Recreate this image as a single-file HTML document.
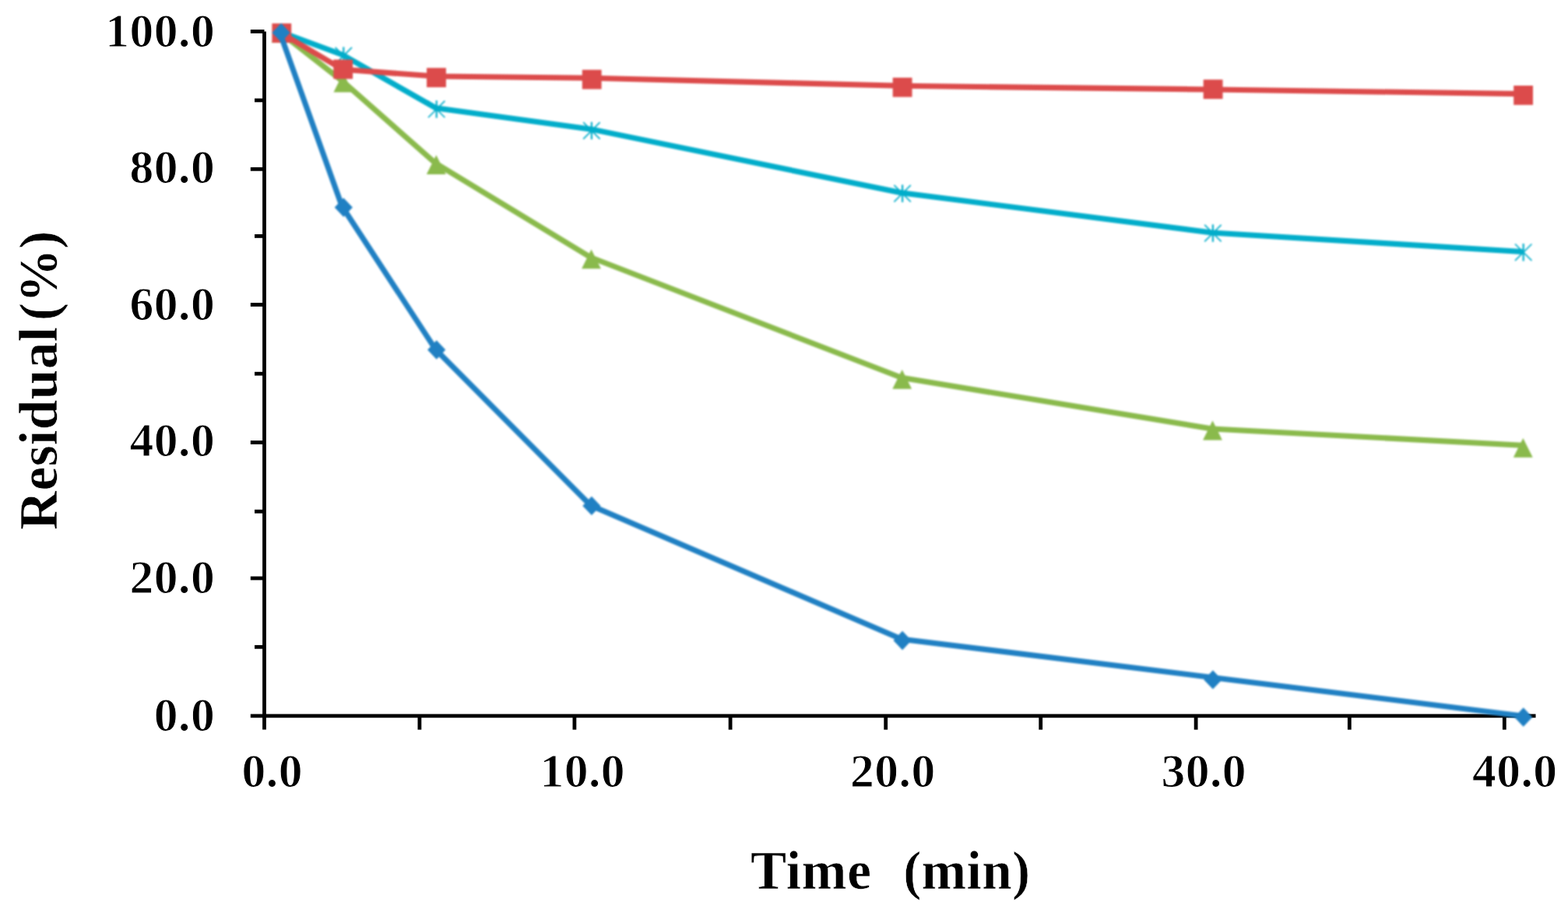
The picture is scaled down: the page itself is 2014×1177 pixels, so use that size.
<!DOCTYPE html>
<html lang="en"><head><meta charset="utf-8"><title>Residual (%) vs Time (min)</title>
<style>
html,body{margin:0;padding:0;background:#fff;}
body{width:2014px;height:1177px;overflow:hidden;}
svg{display:block;}
text{font-family:"Liberation Serif","Times New Roman",serif;font-weight:bold;fill:#000;}
.t{font-size:61.5px;letter-spacing:0.5px;stroke:#fff;stroke-width:1.0px;stroke-linejoin:round;}
.a{font-size:69.2px;stroke:#fff;stroke-width:0.6px;stroke-linejoin:round;}
</style></head><body>
<svg width="2014" height="1177" viewBox="0 0 2014 1177">
<rect width="2014" height="1177" fill="#fff"/>

<g stroke="#000" stroke-width="4.8" fill="none">
<line x1="339.5" y1="40.4" x2="339.5" y2="937.6"/>
<line x1="321.8" y1="919.9" x2="1972.5" y2="919.9"/>
<line x1="321.8" y1="40.4" x2="339.5" y2="40.4"/>
<line x1="327.0" y1="128.9" x2="339.5" y2="128.9"/>
<line x1="321.8" y1="217.3" x2="339.5" y2="217.3"/>
<line x1="327.0" y1="303.4" x2="339.5" y2="303.4"/>
<line x1="321.8" y1="391.5" x2="339.5" y2="391.5"/>
<line x1="327.0" y1="480.2" x2="339.5" y2="480.2"/>
<line x1="321.8" y1="568.5" x2="339.5" y2="568.5"/>
<line x1="327.0" y1="657.2" x2="339.5" y2="657.2"/>
<line x1="321.8" y1="743.0" x2="339.5" y2="743.0"/>
<line x1="327.0" y1="831.3" x2="339.5" y2="831.3"/>
<line x1="538.9" y1="919.9" x2="538.9" y2="937.6"/>
<line x1="737.9" y1="919.9" x2="737.9" y2="937.6"/>
<line x1="938.1" y1="919.9" x2="938.1" y2="937.6"/>
<line x1="1137.7" y1="919.9" x2="1137.7" y2="937.6"/>
<line x1="1336.7" y1="919.9" x2="1336.7" y2="937.6"/>
<line x1="1536.1" y1="919.9" x2="1536.1" y2="937.6"/>
<line x1="1733.3" y1="919.9" x2="1733.3" y2="937.6"/>
<line x1="1932.3" y1="919.9" x2="1932.3" y2="937.6"/>
</g>
<text class="t" x="276.2" y="60.2" text-anchor="end">100.0</text>
<text class="t" x="276.2" y="234.5" text-anchor="end">80.0</text>
<text class="t" x="276.2" y="410.9" text-anchor="end">60.0</text>
<text class="t" x="276.2" y="585.7" text-anchor="end">40.0</text>
<text class="t" x="276.2" y="762.4" text-anchor="end">20.0</text>
<text class="t" x="276.2" y="939.3" text-anchor="end">0.0</text>
<text class="t" x="349.8" y="1010.6" text-anchor="middle">0.0</text>
<text class="t" x="748.3" y="1010.6" text-anchor="middle">10.0</text>
<text class="t" x="1146.9" y="1010.6" text-anchor="middle">20.0</text>
<text class="t" x="1546.3" y="1010.6" text-anchor="middle">30.0</text>
<text class="t" x="1945.8" y="1010.6" text-anchor="middle">40.0</text>
<text class="a" y="1142.3"><tspan x="964" letter-spacing="0.8">Time</tspan> <tspan x="1160.2" letter-spacing="0.35">(min)</tspan></text>
<text class="a" transform="translate(73.2,681) rotate(-90)" letter-spacing="0.5">Residual</text>
<text class="a" transform="translate(73.2,412) rotate(-90) scale(1.0,1)" letter-spacing="0">(%)</text>
<defs><filter id="soft" x="-5%" y="-5%" width="110%" height="110%" color-interpolation-filters="sRGB"><feGaussianBlur stdDeviation="0.8"/></filter></defs>
<g filter="url(#soft)">
<polyline points="360.3,41 440.1,70.5 559.5,138.7 758.7,165.9 1157.9,247.7 1556.7,299 1955.5,323.5" fill="none" stroke="#02adca" stroke-width="7.1" stroke-linejoin="round" stroke-linecap="butt"/>
<g stroke="#02adca" fill="none">
<path stroke-width="1.7" d="M350.8,31L372.2,52.4M350.8,52.4L372.2,31"/><path stroke-width="2.2" d="M361.5,30.5L361.5,52.9"/>
<path stroke-width="1.7" d="M430.6,60.9L452,82.3M430.6,82.3L452,60.9"/><path stroke-width="2.2" d="M441.3,60.4L441.3,82.8"/>
<path stroke-width="1.7" d="M550,129.6L571.4,151M550,151L571.4,129.6"/><path stroke-width="2.2" d="M560.7,129.1L560.7,151.5"/>
<path stroke-width="1.7" d="M749.2,157.2L770.6,178.6M749.2,178.6L770.6,157.2"/><path stroke-width="2.2" d="M759.9,156.7L759.9,179.1"/>
<path stroke-width="1.7" d="M1148.4,237.9L1169.8,259.3M1148.4,259.3L1169.8,237.9"/><path stroke-width="2.2" d="M1159.1,237.4L1159.1,259.8"/>
<path stroke-width="1.7" d="M1547.2,288.9L1568.6,310.3M1547.2,310.3L1568.6,288.9"/><path stroke-width="2.2" d="M1557.9,288.4L1557.9,310.8"/>
<path stroke-width="1.7" d="M1946,313.5L1967.4,334.9M1946,334.9L1967.4,313.5"/><path stroke-width="2.2" d="M1956.7,313L1956.7,335.4"/>
</g>
<polyline points="360.3,42 440.1,104.4 559.5,209.8 758.7,330.7 1157.9,485.3 1556.7,551 1955.5,572.2" fill="none" stroke="#8aba4c" stroke-width="7.1" stroke-linejoin="round" stroke-linecap="butt"/>
<polygon points="361.1,30 373.5,54.8 348.7,54.8" fill="#8aba4c"/>
<polygon points="440.9,93.8 453.3,118.6 428.5,118.6" fill="#8aba4c"/>
<polygon points="560.3,199.2 572.7,224 547.9,224" fill="#8aba4c"/>
<polygon points="759.5,320.4 771.9,345.2 747.1,345.2" fill="#8aba4c"/>
<polygon points="1158.7,475 1171.1,499.8 1146.3,499.8" fill="#8aba4c"/>
<polygon points="1557.5,540.6 1569.9,565.4 1545.1,565.4" fill="#8aba4c"/>
<polygon points="1956.3,562.9 1968.7,587.7 1943.9,587.7" fill="#8aba4c"/>
<polyline points="360.3,42 440.1,89.3 559.5,98 758.7,100.3 1157.9,110.3 1556.7,115 1955.5,120.6" fill="none" stroke="#dc4b4b" stroke-width="7.1" stroke-linejoin="round" stroke-linecap="butt"/>
<rect x="349.4" y="30.1" width="24.8" height="24.8" fill="#dc4b4b"/>
<rect x="428.3" y="76.6" width="24.8" height="24.8" fill="#dc4b4b"/>
<rect x="548.1" y="87.3" width="24.8" height="24.8" fill="#dc4b4b"/>
<rect x="747.8" y="89.7" width="24.8" height="24.8" fill="#dc4b4b"/>
<rect x="1146.7" y="99.8" width="24.8" height="24.8" fill="#dc4b4b"/>
<rect x="1545.7" y="102.3" width="24.8" height="24.8" fill="#dc4b4b"/>
<rect x="1944.2" y="110" width="24.8" height="24.8" fill="#dc4b4b"/>
<polyline points="358.9,40.4 439.1,264.7 559.5,449.1 758.7,649.5 1157.9,821.2 1556.7,870.4 1955.5,919.9" fill="none" stroke="#2080c3" stroke-width="7.1" stroke-linejoin="round" stroke-linecap="butt"/>
<polygon points="361.1,29.8 372.7,42 361.1,54.2 349.5,42" fill="#2080c3"/>
<polygon points="441.3,254.3 452.9,266.5 441.3,278.7 429.7,266.5" fill="#2080c3"/>
<polygon points="560.7,437.3 572.3,449.5 560.7,461.7 549.1,449.5" fill="#2080c3"/>
<polygon points="759.9,637.7 771.5,649.9 759.9,662.1 748.3,649.9" fill="#2080c3"/>
<polygon points="1159.1,810.8 1170.7,823 1159.1,835.2 1147.5,823" fill="#2080c3"/>
<polygon points="1557.9,861.2 1569.5,873.4 1557.9,885.6 1546.3,873.4" fill="#2080c3"/>
<polygon points="1956.7,909.3 1968.3,921.5 1956.7,933.7 1945.1,921.5" fill="#2080c3"/>
</g>
</svg></body></html>
